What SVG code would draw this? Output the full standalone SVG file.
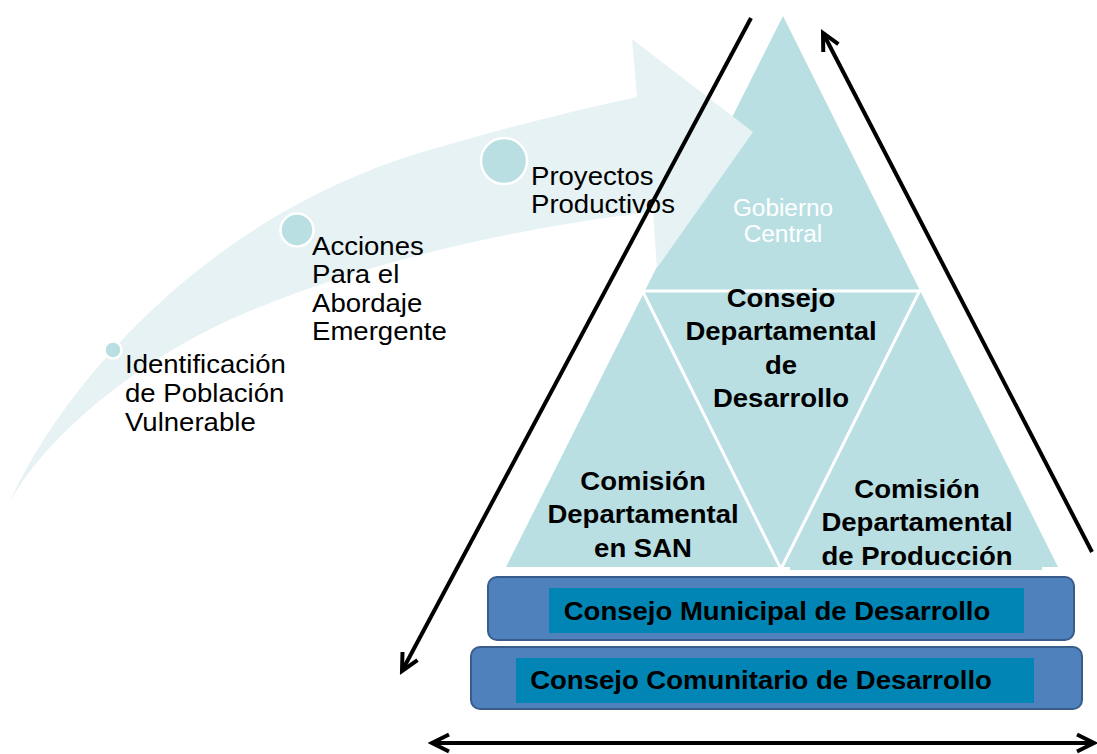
<svg xmlns="http://www.w3.org/2000/svg" width="1097" height="754" viewBox="0 0 1097 754">
<style>
.reg{font-family:"Liberation Sans",Arial,sans-serif;font-size:26px;fill:#000}
.gob{font-family:"Liberation Sans",Arial,sans-serif;font-size:23px;fill:#fff;text-anchor:middle}
.bold{font-family:"Liberation Sans",Arial,sans-serif;font-size:25.5px;font-weight:bold;fill:#000;text-anchor:middle}
.tri{fill:#b9dfe3}
.dot{fill:#b9dfe3;stroke:#fff;stroke-width:2.5}
.sep{stroke:#fff;stroke-width:3;fill:none}
.outer{fill:#4f81bd;stroke:#385d8a;stroke-width:2}
.inner{fill:#0085b5}
.conn{stroke:#000;stroke-width:4;fill:none}
</style>
<defs>
<marker id="ah" viewBox="-22 -12 26 24" refX="0" refY="0" markerWidth="26" markerHeight="24" markerUnits="userSpaceOnUse" orient="auto-start-reverse">
<path d="M-17,-8.5 L0,0 L-17,8.5" fill="none" stroke="#000" stroke-width="4" stroke-linejoin="miter"/>
</marker>
</defs>

<g id="pyramid">
<polygon class="tri" points="783,16 506,567 1058,567"/>
<rect class="tri" x="790" y="558" width="252" height="12"/>
<line class="sep" x1="640" y1="291" x2="925" y2="291"/>
<polyline class="sep" points="643,292 781,569 919,292"/>
</g>

<g id="process-arrow">
<path fill="#e6f2f4" d="M10,502 C50,410 190,215 440,147 Q540,118 637,97 L632,39 L753,132 L657,268 L653,212 C560,222 400,250 260,307 C150,350 50,430 10,502 Z"/>
</g>

<g id="gobierno-central">
<text class="gob" transform="translate(783,216) scale(1.06,1)"><tspan x="0" y="0">Gobierno</tspan><tspan x="0" y="26">Central</tspan></text>
</g>

<g id="step-identificacion">
<circle class="dot" cx="113" cy="350" r="8.5"/>
<text class="reg" transform="translate(125,373) scale(1.06,1)"><tspan x="0" y="0">Identificación</tspan><tspan x="0" y="29">de Población</tspan><tspan x="0" y="58">Vulnerable</tspan></text>
</g>

<g id="step-acciones">
<circle class="dot" cx="297" cy="230" r="16.5"/>
<text class="reg" transform="translate(312,255) scale(1.06,1)"><tspan x="0" y="0">Acciones</tspan><tspan x="0" y="28.3">Para el</tspan><tspan x="0" y="56.6">Abordaje</tspan><tspan x="0" y="85">Emergente</tspan></text>
</g>

<g id="step-proyectos">
<circle class="dot" cx="504" cy="161" r="23"/>
<text class="reg" transform="translate(531,185) scale(1.06,1)"><tspan x="0" y="0">Proyectos</tspan><tspan x="0" y="28">Productivos</tspan></text>
</g>

<g id="consejo-departamental">
<text class="bold" transform="translate(781,307) scale(1.08,1)"><tspan x="0" y="0">Consejo</tspan><tspan x="0" y="33.3">Departamental</tspan><tspan x="0" y="66.6">de</tspan><tspan x="0" y="100">Desarrollo</tspan></text>
</g>

<g id="comision-san">
<text class="bold" transform="translate(643,490) scale(1.08,1)"><tspan x="0" y="0">Comisión</tspan><tspan x="0" y="33.3">Departamental</tspan><tspan x="0" y="66.7">en SAN</tspan></text>
</g>

<g id="comision-produccion">
<text class="bold" transform="translate(917,498) scale(1.08,1)"><tspan x="0" y="0">Comisión</tspan><tspan x="0" y="33.5">Departamental</tspan><tspan x="0" y="67">de Producción</tspan></text>
</g>

<g id="consejo-municipal">
<rect class="outer" x="488" y="577" width="586" height="63" rx="9"/>
<rect class="inner" x="549" y="588" width="475" height="45"/>
<text class="bold" transform="translate(777,620) scale(1.08,1)">Consejo Municipal de Desarrollo</text>
</g>

<g id="consejo-comunitario">
<rect class="outer" x="471" y="647" width="611" height="62" rx="9"/>
<rect class="inner" x="516" y="658" width="518" height="45"/>
<text class="bold" transform="translate(761,689) scale(1.08,1)">Consejo Comunitario de Desarrollo</text>
</g>

<g id="connectors">
<path class="conn" d="M751,18 L402,671" marker-end="url(#ah)"/>
<path class="conn" d="M1092,552 L823,33" marker-end="url(#ah)"/>
<path class="conn" d="M432,743 L1094,743" marker-start="url(#ah)" marker-end="url(#ah)"/>
</g>
</svg>
